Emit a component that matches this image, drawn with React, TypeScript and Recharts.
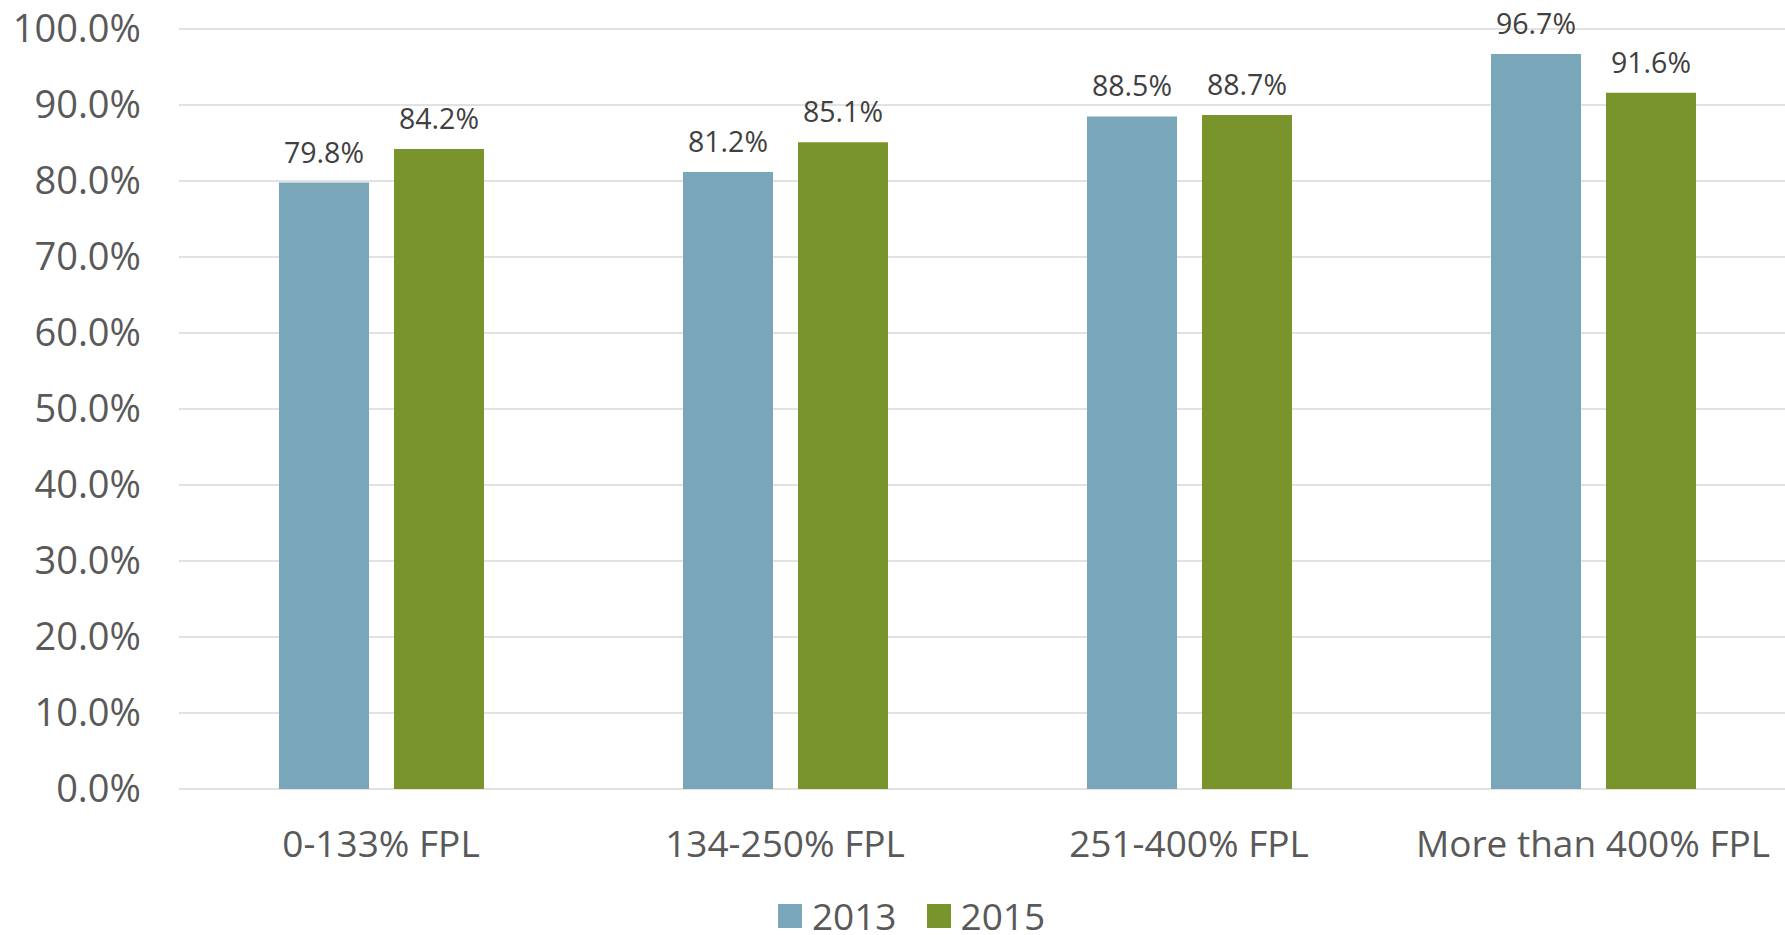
import { BarChart, Bar, XAxis, YAxis, CartesianGrid, Legend, LabelList } from 'recharts'

// ─── Data ───────────────────────────────────────────────────────
const categories = ['0-133% FPL', '134-250% FPL', '251-400% FPL', 'More than 400% FPL']
const values2013 = [79.8, 81.2, 88.5, 96.7]
const values2015 = [84.2, 85.1, 88.7, 91.6]
const yTicks = [0, 10, 20, 30, 40, 50, 60, 70, 80, 90, 100]

const BLUE = '#7aa6b9'
const GREEN = '#7a942c'
const FONT = '"Open Sans", sans-serif'

const data = categories.map((name, i) => ({
  name,
  y2013: values2013[i],
  y2015: values2015[i],
}))

const pct = (v: number) => `${Number(v).toFixed(1)}%`

function LegendContent() {
  const items = [
    { label: '2013', color: BLUE },
    { label: '2015', color: GREEN },
  ]
  return (
    <div style={{ display: 'flex', justifyContent: 'center', paddingLeft: 68, paddingRight: 10, paddingTop: 20, fontFamily: FONT }}>
      {items.map((it) => (
        <div key={it.label} style={{ display: 'flex', alignItems: 'center', marginRight: 30 }}>
          <div style={{ width: 24, height: 24, background: it.color, marginRight: 10 }} />
          <span style={{ fontSize: 37, lineHeight: '34px', color: '#595959' }}>{it.label}</span>
        </div>
      ))}
    </div>
  )
}

export default function App() {
  return (
    <div style={{ position: 'absolute', left: 0, top: 0, width: 1785, height: 935, overflow: 'hidden', background: '#fff' }}>
      <BarChart
        width={1795}
        height={935}
        data={data}
        margin={{ top: 29, right: 0, left: 0, bottom: 0 }}
        barCategoryGap="24.5%"
        barGap={25}
      >
        <CartesianGrid vertical={false} stroke="#d9d9d9" strokeWidth={1.5} />
        <XAxis
          dataKey="name"
          height={90}
          axisLine={false}
          tickLine={false}
          tickSize={0}
          tickMargin={42}
          interval={0}
          tick={{ fontSize: 37, fill: '#595959', fontFamily: FONT }}
        />
        <YAxis
          width={179}
          domain={[0, 100]}
          ticks={yTicks}
          tickFormatter={pct}
          axisLine={false}
          tickLine={false}
          tickSize={0}
          tickMargin={38}
          tick={{ fontSize: 38, fill: '#595959', fontFamily: FONT }}
        />
        <Legend verticalAlign="bottom" height={56} content={<LegendContent />} />
        <Bar dataKey="y2013" name="2013" fill={BLUE} barSize={90} isAnimationActive={false}>
          <LabelList dataKey="y2013" position="top" offset={20} formatter={pct} style={{ fontSize: 28.5, fill: '#404040', fontFamily: FONT }} />
        </Bar>
        <Bar dataKey="y2015" name="2015" fill={GREEN} barSize={90} isAnimationActive={false}>
          <LabelList dataKey="y2015" position="top" offset={20} formatter={pct} style={{ fontSize: 28.5, fill: '#404040', fontFamily: FONT }} />
        </Bar>
      </BarChart>
    </div>
  )
}
